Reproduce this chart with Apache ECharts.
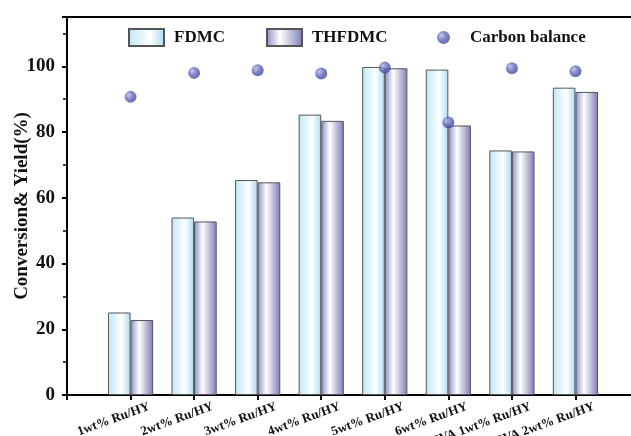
<!DOCTYPE html>
<html>
<head>
<meta charset="utf-8">
<script src="https://cdn.jsdelivr.net/npm/echarts@6/dist/echarts.min.js"></script>
<style>html,body{margin:0;padding:0;background:#fff;}#c{width:631px;height:436px;}</style>
</head>
<body>
<div id="c"></div>
<script>
const categories = ['', '1wt% Ru/HY', '2wt% Ru/HY', '3wt% Ru/HY', '4wt% Ru/HY', '5wt% Ru/HY', '6wt% Ru/HY', 'PVA 1wt% Ru/HY', 'PVA 2wt% Ru/HY', ''];
const fdmc = [null, 25.1, 54.0, 65.4, 85.3, 99.8, 99.0, 74.4, 93.5, null];
const thfdmc = [null, 22.8, 52.8, 64.7, 83.4, 99.4, 82.0, 74.1, 92.2, null];
const carbonBalance = [null, 90.7, 98.0, 98.8, 97.8, 99.6, 82.9, 99.4, 98.5, null];
const yTicks = { min: 0, max: 115, interval: 20 };

const font = '"Liberation Serif", "Times New Roman", serif';
const fdmcGrad = new echarts.graphic.LinearGradient(0, 0, 1, 0, [
  { offset: 0, color: '#bfe7f7' }, { offset: 0.6, color: '#ffffff' }, { offset: 1, color: '#aadcf0' }]);
const thGrad = new echarts.graphic.LinearGradient(0, 0, 1, 0, [
  { offset: 0, color: '#8c8dc6' }, { offset: 0.38, color: '#ffffff' }, { offset: 1, color: '#7b7cb7' }]);
const dotGrad = new echarts.graphic.RadialGradient(0.35, 0.35, 0.7, [
  { offset: 0, color: '#b4b9ea' }, { offset: 0.5, color: '#5e67b8' }, { offset: 1, color: '#3f4799' }]);

const legendText = { fontFamily: font, fontWeight: 'bold', fontSize: 17, color: '#111' };
const chart = echarts.init(document.getElementById('c'));
chart.setOption({
  animation: false,
  backgroundColor: '#fff',
  grid: { left: 67, top: 17, width: 572, height: 378, show: true, borderColor: '#000', borderWidth: 2,
    containLabel: false, outerBoundsMode: 'none' },
  legend: [
    { data: ['FDMC'], left: 128, top: 28, padding: 0, itemWidth: 35, itemHeight: 17, icon: 'rect',
      textStyle: Object.assign({ padding: [0, 0, 0, 5] }, legendText) },
    { data: ['THFDMC'], left: 266, top: 28, padding: 0, itemWidth: 35, itemHeight: 17, icon: 'rect',
      textStyle: Object.assign({ padding: [0, 0, 0, 5] }, legendText) },
    { data: ['Carbon balance'], left: 437, top: 29, padding: 0, itemWidth: 13, itemHeight: 13, icon: 'circle',
      textStyle: Object.assign({ padding: [0, 0, 0, 15] }, legendText) }
  ],
  xAxis: {
    type: 'category', data: categories, boundaryGap: false,
    axisLine: { lineStyle: { color: '#000', width: 2 } },
    axisTick: { show: true, length: 5, lineStyle: { color: '#000', width: 2 }, alignWithLabel: true },
    axisLabel: { rotate: 20, interval: 0, margin: 18, fontFamily: font, fontWeight: 'bold', fontSize: 13, color: '#111',
      padding: [0, -20, 0, 0] },
    splitLine: { show: false }
  },
  yAxis: {
    type: 'value', min: yTicks.min, max: yTicks.max, interval: yTicks.interval,
    name: 'Conversion& Yield(%)', nameLocation: 'middle', nameGap: 35, nameMoveOverlap: false,
    nameTextStyle: { fontFamily: font, fontWeight: 'bold', fontSize: 19, color: '#111' },
    axisLine: { show: true, lineStyle: { color: '#000', width: 2 } },
    axisTick: { show: true, length: 5, lineStyle: { color: '#000', width: 2 } },
    minorTick: { show: true, splitNumber: 2, length: 4, lineStyle: { color: '#000', width: 1.5 } },
    axisLabel: { margin: 12, fontFamily: font, fontWeight: 'bold', fontSize: 19, color: '#111', showMaxLabel: false,
      formatter: v => (v % 20 === 0 ? String(v) : '') },
    splitLine: { show: false }
  },
  series: [
    { name: 'FDMC', type: 'bar', data: fdmc, barWidth: 22.6, barGap: '0%',
      itemStyle: { color: fdmcGrad, borderColor: '#555', borderWidth: 1 } },
    { name: 'THFDMC', type: 'bar', data: thfdmc, barWidth: 22.6, barGap: '0%',
      itemStyle: { color: thGrad, borderColor: '#555', borderWidth: 1 } },
    { name: 'Carbon balance', type: 'scatter', data: carbonBalance, symbolSize: 12, z: 5,
      itemStyle: { color: dotGrad } }
  ]
});
</script>
</body>
</html>
